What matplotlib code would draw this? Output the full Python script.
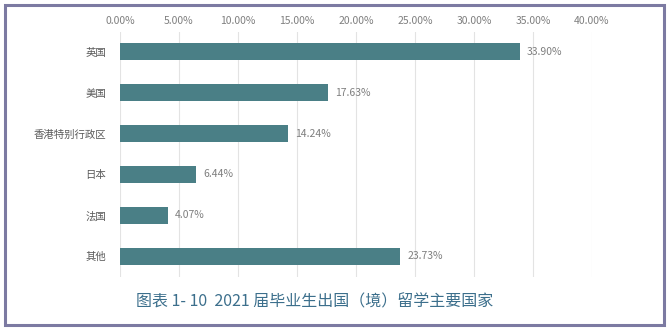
import matplotlib
matplotlib.use("Agg")
import matplotlib.pyplot as plt
from matplotlib.patches import Rectangle

plt.rcParams['font.family'] = ['Noto Sans CJK SC', 'DejaVu Sans']

# ---------------------------
# Data
# ---------------------------
countries = ["英国", "美国", "香港特别行政区", "日本", "法国", "其他"]
shares = [33.90, 17.63, 14.24, 6.44, 4.07, 23.73]
tick_values = [0, 5, 10, 15, 20, 25, 30, 35, 40]
title = "图表 1- 10  2021 届毕业生出国（境）留学主要国家"

BAR_COLOR = "#4a7f86"
TEXT_GRAY = "#7f7f7f"
FRAME_COLOR = "#7c7aa2"

W, H = 671, 333
fig = plt.figure(figsize=(W / 100, H / 100), dpi=100)

# plot area in pixel coords of the reference
left, right, top, bottom = 120, 592, 31.5, 276.5
ax = fig.add_axes([left / W, 1 - bottom / H, (right - left) / W, (bottom - top) / H])

y = list(range(len(countries)))
ax.barh(y, shares, height=0.42, color=BAR_COLOR, zorder=3)
for yi, v in zip(y, shares):
    ax.text(v + 0.6, yi, f"{v:.2f}%", va="center", ha="left",
            fontsize=7.5, color=TEXT_GRAY)

ax.set_xlim(0, 40)
ax.set_ylim(len(countries) - 0.5, -0.5)
ax.set_yticks(y)
ax.set_yticklabels(countries, fontsize=7.5, color="#595959")
ax.set_xticks(tick_values)
ax.set_xticklabels([f"{t:.2f}%" for t in tick_values], fontsize=7.5, color=TEXT_GRAY)
ax.xaxis.tick_top()
ax.tick_params(axis="x", length=0, pad=4)
ax.tick_params(axis="y", length=0, pad=10)
ax.grid(axis="x", color="#e3e3e3", linewidth=0.8, zorder=0)
for s in ax.spines.values():
    s.set_visible(False)

fig.text(315 / W, 1 - 302 / H, title, ha="center", va="center",
         fontsize=11.5, color="#3c6f8c")

# outer frame
fig.patches.append(Rectangle((5 / W, 1 - 325 / H), 659 / W, 320 / H,
                             transform=fig.transFigure, fill=False,
                             edgecolor=FRAME_COLOR, linewidth=2.2))

fig.savefig("out.png", dpi=100)
